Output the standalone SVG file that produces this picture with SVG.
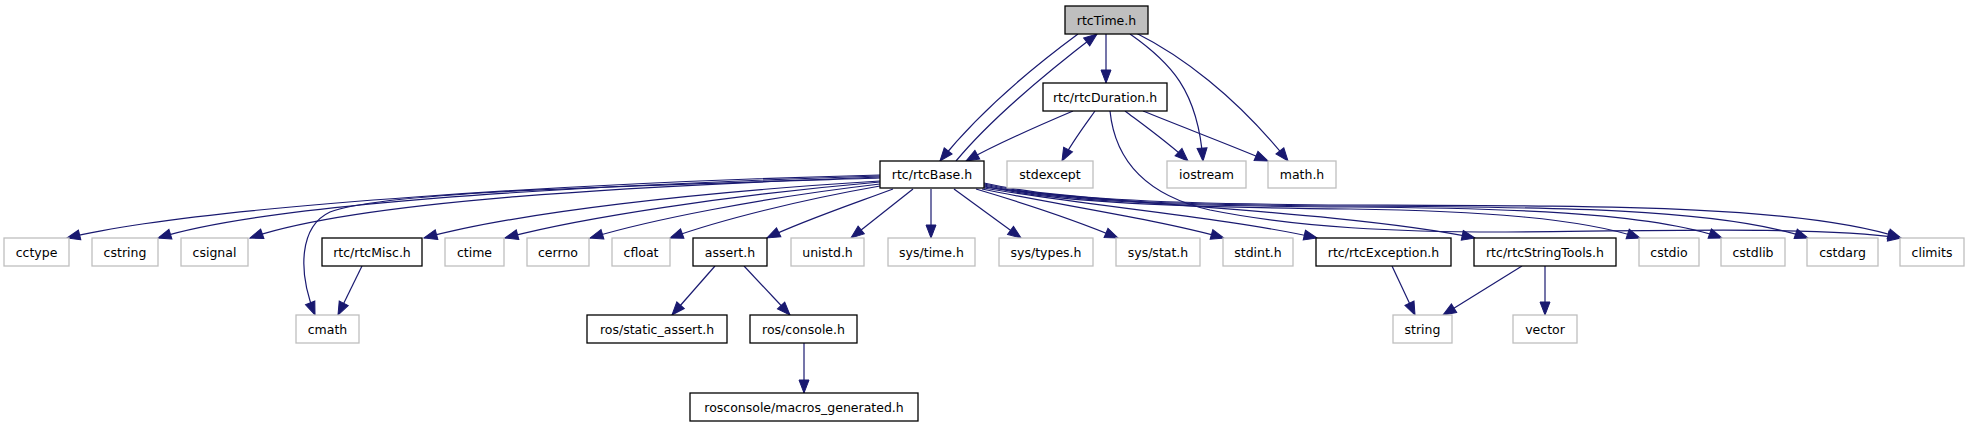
<svg xmlns="http://www.w3.org/2000/svg" width="1968" height="427" viewBox="0 0 1968 427">
<style>
rect{stroke-width:1.3}
.d{fill:#ffffff;stroke:#000000}
.u{fill:#ffffff;stroke:#bfbfbf}
.m{fill:#bfbfbf;stroke:#000000}
text{font-family:"DejaVu Sans","Liberation Sans",sans-serif;font-size:12.5px;fill:#000000;text-anchor:middle}
#edges path{fill:none;stroke:#191970;stroke-width:1.2;marker-end:url(#ah)}
</style>
<defs>
<marker id="ah" markerUnits="userSpaceOnUse" markerWidth="14" markerHeight="11" refX="13" refY="5" orient="auto" overflow="visible">
<path d="M0,0 L13,5 L0,10 z" fill="#191970" stroke="#191970" stroke-width="1"/>
</marker>
</defs>
<rect width="1968" height="427" fill="#ffffff"/>
<g id="edges">
<path d="M1078,34 C1040,62 985,105 940,161"/>
<path d="M956,161 C990,120 1050,70 1097,34"/>
<path d="M1106,34 L1106,83"/>
<path d="M1130,34 C1170,62 1198,90 1203,161"/>
<path d="M1136,33 C1180,55 1235,95 1288,161"/>
<path d="M1073,111 C1040,125 1000,142 966,161"/>
<path d="M1095,111 C1085,125 1072,142 1062,161"/>
<path d="M1125,111 C1145,126 1170,144 1188,161"/>
<path d="M1143,111 C1185,128 1230,145 1268,161"/>
<path d="M1110,111 C1115,160 1145,195 1210,210 C1300,228 1400,232 1500,232 C1650,231 1820,226 1901,238"/>
<path d="M880,175 C600,182 200,205 67,238"/>
<path d="M880,176 C620,184 280,200 158,238"/>
<path d="M880,177 C640,186 360,200 250,238"/>
<path d="M880,178 C620,186 380,192 330,212 C300,226 297,270 315,315"/>
<path d="M880,181 C700,192 520,212 424,238"/>
<path d="M880,182 C730,195 580,218 505,238"/>
<path d="M880,184 C760,198 650,220 590,238"/>
<path d="M880,186 C800,200 720,220 670,238"/>
<path d="M893,189 C850,205 800,222 767,238"/>
<path d="M913,189 L851,238"/>
<path d="M931,189 L931,238"/>
<path d="M954,189 L1021,238"/>
<path d="M976,189 C1030,205 1080,222 1118,238"/>
<path d="M982,189 C1060,205 1160,220 1224,238"/>
<path d="M984,188 C1080,205 1230,218 1317,238"/>
<path d="M984,187 C1100,203 1350,212 1475,238"/>
<path d="M984,186 C1050,201 1150,207 1350,209 C1480,211 1580,218 1640,238"/>
<path d="M984,185 C1050,200 1150,206 1350,207 C1500,208 1650,212 1722,238"/>
<path d="M984,184 C1050,199 1150,205 1350,206 C1550,207 1720,208 1808,238"/>
<path d="M984,183 C1050,198 1150,204 1350,205 C1600,206 1800,205 1901,238"/>
<path d="M362,266 L338,315"/>
<path d="M715,266 L672,315"/>
<path d="M744,266 L790,315"/>
<path d="M804,343 L804,393"/>
<path d="M1392,266 L1415,315"/>
<path d="M1522,266 L1443,315"/>
<path d="M1545,266 L1545,315"/>
</g>
<g id="n_rtcTime"><rect class="m" x="1065" y="6" width="83" height="28"/><text x="1106.5" y="24.5">rtcTime.h</text></g>
<g id="n_rtcDuration"><rect class="d" x="1043" y="83" width="124" height="28"/><text x="1105" y="101.5">rtc/rtcDuration.h</text></g>
<g id="n_rtcBase"><rect class="d" x="880" y="161" width="104" height="27"/><text x="932" y="179">rtc/rtcBase.h</text></g>
<g id="n_stdexcept"><rect class="u" x="1007" y="161" width="86" height="27"/><text x="1050" y="179">stdexcept</text></g>
<g id="n_iostream"><rect class="u" x="1167" y="161" width="79" height="27"/><text x="1206.5" y="179">iostream</text></g>
<g id="n_math"><rect class="u" x="1268" y="161" width="68" height="27"/><text x="1302" y="179">math.h</text></g>
<g id="n_cctype"><rect class="u" x="4" y="238" width="65" height="28"/><text x="36.5" y="256.5">cctype</text></g>
<g id="n_cstring"><rect class="u" x="92" y="238" width="66" height="28"/><text x="125" y="256.5">cstring</text></g>
<g id="n_csignal"><rect class="u" x="181" y="238" width="67" height="28"/><text x="214.5" y="256.5">csignal</text></g>
<g id="n_rtcMisc"><rect class="d" x="322" y="238" width="100" height="28"/><text x="372" y="256.5">rtc/rtcMisc.h</text></g>
<g id="n_ctime"><rect class="u" x="445" y="238" width="59" height="28"/><text x="474.5" y="256.5">ctime</text></g>
<g id="n_cerrno"><rect class="u" x="527" y="238" width="62" height="28"/><text x="558" y="256.5">cerrno</text></g>
<g id="n_cfloat"><rect class="u" x="612" y="238" width="58" height="28"/><text x="641" y="256.5">cfloat</text></g>
<g id="n_assert"><rect class="d" x="693" y="238" width="74" height="28"/><text x="730" y="256.5">assert.h</text></g>
<g id="n_unistd"><rect class="u" x="791" y="238" width="73" height="28"/><text x="827.5" y="256.5">unistd.h</text></g>
<g id="n_systime"><rect class="u" x="888" y="238" width="87" height="28"/><text x="931.5" y="256.5">sys/time.h</text></g>
<g id="n_systypes"><rect class="u" x="999" y="238" width="94" height="28"/><text x="1046" y="256.5">sys/types.h</text></g>
<g id="n_sysstat"><rect class="u" x="1116" y="238" width="84" height="28"/><text x="1158" y="256.5">sys/stat.h</text></g>
<g id="n_stdint"><rect class="u" x="1223" y="238" width="70" height="28"/><text x="1258" y="256.5">stdint.h</text></g>
<g id="n_rtcException"><rect class="d" x="1316" y="238" width="135" height="28"/><text x="1383.5" y="256.5">rtc/rtcException.h</text></g>
<g id="n_rtcStringTools"><rect class="d" x="1474" y="238" width="142" height="28"/><text x="1545" y="256.5">rtc/rtcStringTools.h</text></g>
<g id="n_cstdio"><rect class="u" x="1639" y="238" width="60" height="28"/><text x="1669" y="256.5">cstdio</text></g>
<g id="n_cstdlib"><rect class="u" x="1721" y="238" width="64" height="28"/><text x="1753" y="256.5">cstdlib</text></g>
<g id="n_cstdarg"><rect class="u" x="1807" y="238" width="71" height="28"/><text x="1842.5" y="256.5">cstdarg</text></g>
<g id="n_climits"><rect class="u" x="1900" y="238" width="64" height="28"/><text x="1932" y="256.5">climits</text></g>
<g id="n_cmath"><rect class="u" x="296" y="315" width="63" height="28"/><text x="327.5" y="333.5">cmath</text></g>
<g id="n_static_assert"><rect class="d" x="587" y="315" width="140" height="28"/><text x="657" y="333.5">ros/static_assert.h</text></g>
<g id="n_console"><rect class="d" x="750" y="315" width="107" height="28"/><text x="803.5" y="333.5">ros/console.h</text></g>
<g id="n_string"><rect class="u" x="1393" y="315" width="59" height="28"/><text x="1422.5" y="333.5">string</text></g>
<g id="n_vector"><rect class="u" x="1513" y="315" width="64" height="28"/><text x="1545" y="333.5">vector</text></g>
<g id="n_macros"><rect class="d" x="690" y="393" width="228" height="28"/><text x="804" y="411.5">rosconsole/macros_generated.h</text></g>
</svg>
